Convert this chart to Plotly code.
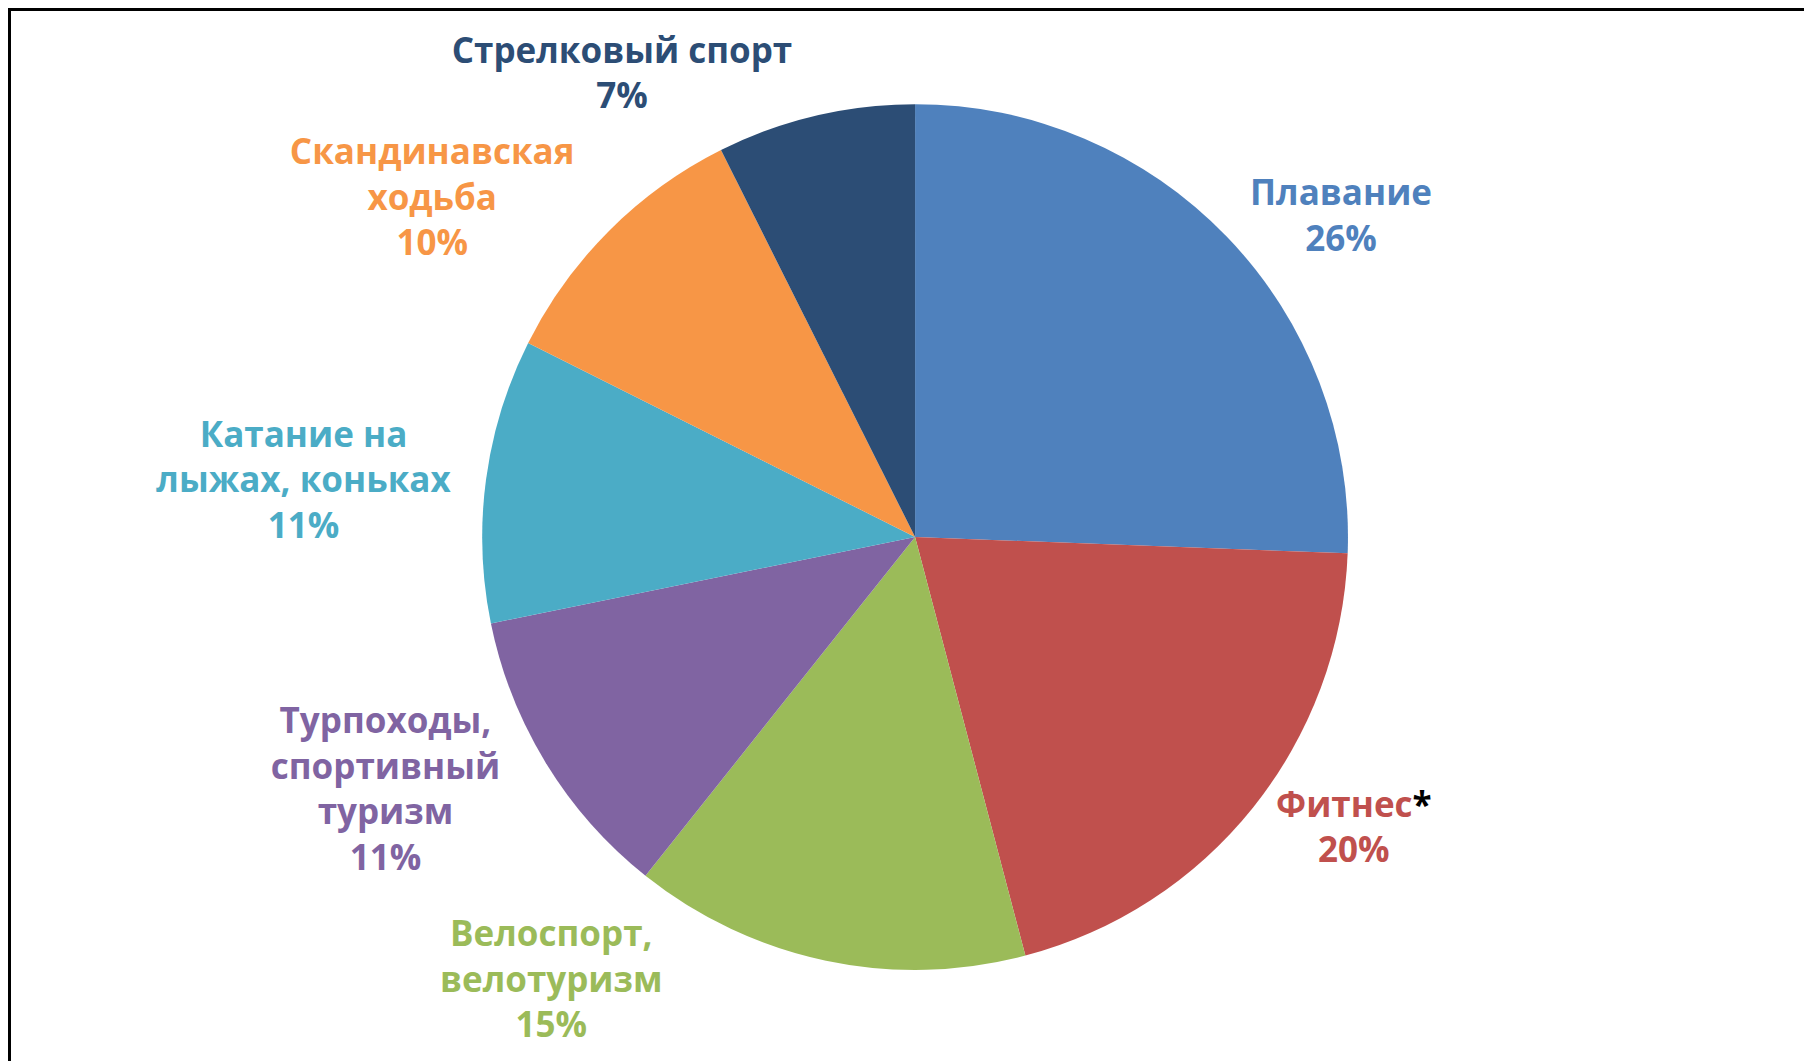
import plotly.graph_objects as go

categories = [
    "Плавание",
    "Фитнес<span style='color:black'>*</span>",
    "Велоспорт,<br>велотуризм",
    "Турпоходы,<br>спортивный<br>туризм",
    "Катание на<br>лыжах, коньках",
    "Скандинавская<br>ходьба",
    "Стрелковый спорт",
]
values = [25.6, 20.3, 14.8, 11.1, 10.6, 10.2, 7.4]
colors = ["#4F81BD", "#C0504D", "#9BBB59", "#8064A2", "#4BACC6", "#F79646", "#2C4D75"]

# label of the bottom slice is drawn as an annotation (it would fall off the page)
moved = 2
total = sum(values)
templates = ["%{label}<br>%{percent:.0%}" if i != moved else "" for i in range(len(values))]

FONT = "Open Sans"
SIZE = 35

fig = go.Figure(go.Pie(
    labels=categories,
    values=values,
    sort=False,
    direction="clockwise",
    rotation=0,
    marker=dict(colors=colors, line=dict(width=0)),
    textposition="outside",
    texttemplate=templates,
    outsidetextfont=dict(family=FONT, size=SIZE, color=colors, weight="bold"),
    hoverinfo="label+percent",
    showlegend=False,
    automargin=False,
    domain=dict(x=[0.2617, 0.7395], y=[0.0934, 0.9094]),
))

fig.add_annotation(
    xref="paper", yref="paper", x=0.2997, y=0.0858,
    xanchor="center", yanchor="middle", showarrow=False,
    text=f"{categories[moved]}<br>{round(values[moved] / total * 100)}%",
    font=dict(family=FONT, size=SIZE, color=colors[moved], weight="bold"),
    align="center",
)

fig.update_layout(
    width=1812, height=1061,
    margin=dict(l=0, r=0, t=0, b=0, autoexpand=False),
    paper_bgcolor="white",
    shapes=[dict(type="rect", xref="paper", yref="paper",
                 x0=1.5/1812, x1=1.02, y0=-0.02, y1=1-1.5/1061,
                 line=dict(color="black", width=3))],
)

fig.write_html("out.html")
